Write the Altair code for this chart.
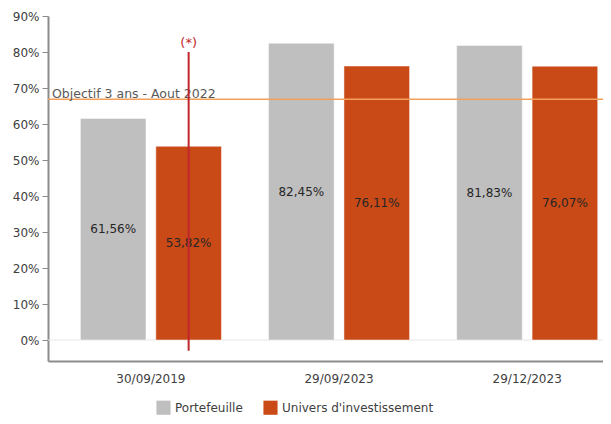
import altair as alt
import pandas as pd

dates = ["30/09/2019", "29/09/2023", "29/12/2023"]
series = ["Portefeuille", "Univers d'investissement"]
portefeuille = [0.6156, 0.8245, 0.8183]
univers = [0.5382, 0.7611, 0.7607]
portefeuille_labels = ["61,56%", "82,45%", "81,83%"]
univers_labels = ["53,82%", "76,11%", "76,07%"]
y_ticks = [0, 0.1, 0.2, 0.3, 0.4, 0.5, 0.6, 0.7, 0.8, 0.9]
objectif_value = 0.669
objectif_label = "Objectif 3 ans - Aout 2022"
marker_date = "30/09/2019"
marker_series = "Univers d'investissement"
marker_top = 0.80
marker_bottom = -0.03
marker_label = "(*)"

rows = []
for d, v, l in zip(dates, portefeuille, portefeuille_labels):
    rows.append({"date": d, "serie": series[0], "value": v, "label": l, "mid": v / 2})
for d, v, l in zip(dates, univers, univers_labels):
    rows.append({"date": d, "serie": series[1], "value": v, "label": l, "mid": v / 2})
df = pd.DataFrame(rows)

FONT = "DejaVu Sans"
TXT = "#404040"

yscale = alt.Scale(domain=[-0.0583, 0.9], nice=False, zero=False)
xscale = alt.Scale(domain=dates, paddingInner=0.25, paddingOuter=0.1, align=0.86)
offscale = alt.Scale(domain=series, paddingInner=0.13, paddingOuter=0)

y_axis = alt.Axis(title=None, values=y_ticks, format=".0%", grid=False,
                  labelOverlap=False,
                  domainColor="#8c8c8c", domainWidth=2, tickColor="#8c8c8c",
                  tickSize=6, labelFontSize=12, labelColor=TXT, labelFont=FONT,
                  labelPadding=3)
x_axis = alt.Axis(title=None, labelAngle=0, ticks=False, domainColor="#8c8c8c",
                  domainWidth=2, labelFontSize=12, labelColor=TXT, labelFont=FONT,
                  labelPadding=12)

bars = alt.Chart(df).mark_bar(stroke="white", strokeWidth=0.5).encode(
    x=alt.X("date:N", scale=xscale, sort=dates, axis=x_axis),
    xOffset=alt.XOffset("serie:N", scale=offscale, sort=series),
    y=alt.Y("value:Q", scale=yscale, axis=y_axis),
    y2=alt.datum(0),
    color=alt.Color("serie:N", sort=series,
                    scale=alt.Scale(domain=series, range=["#BFBFBF", "#C94A16"]),
                    legend=alt.Legend(title=None, orient="none", direction="horizontal",
                                      legendX=108, legendY=384,
                                      symbolType="square", symbolSize=200, symbolStrokeWidth=0,
                                      labelFontSize=12, labelColor=TXT, labelFont=FONT,
                                      columnPadding=20)),
)

zero_df = pd.DataFrame({"y": [0.0]})
zero_line = alt.Chart(zero_df).mark_rule(color="#e6e6e6", strokeWidth=1).encode(
    y=alt.Y("y:Q", scale=yscale, axis=y_axis)
)

labels = alt.Chart(df).mark_text(fontSize=12, color="#262626", font=FONT).encode(
    x=alt.X("date:N", scale=xscale, sort=dates, axis=x_axis),
    xOffset=alt.XOffset("serie:N", scale=offscale, sort=series),
    y=alt.Y("mid:Q", scale=yscale, axis=y_axis),
    text="label:N",
)

obj_df = pd.DataFrame({"y": [objectif_value], "t": [objectif_label]})
obj_line = alt.Chart(obj_df).mark_rule(color="#F5A05A", strokeWidth=1.5).encode(
    y=alt.Y("y:Q", scale=yscale, axis=y_axis)
)
obj_text = alt.Chart(obj_df).mark_text(align="left", baseline="bottom", dy=2, fontSize=12.5,
                                       color="#595959", font=FONT).encode(
    x=alt.value(4), y=alt.Y("y:Q", scale=yscale, axis=y_axis), text="t:N"
)

mk_df = pd.DataFrame({"date": [marker_date], "serie": [marker_series],
                      "top": [marker_top], "bottom": [marker_bottom], "t": [marker_label]})
mk_line = alt.Chart(mk_df).mark_rule(color="#C0272D", strokeWidth=2).encode(
    x=alt.X("date:N", scale=xscale, sort=dates, axis=x_axis),
    xOffset=alt.XOffset("serie:N", scale=offscale, sort=series),
    y=alt.Y("top:Q", scale=yscale, axis=y_axis), y2="bottom:Q",
)
mk_text = alt.Chart(mk_df).mark_text(color="#C0272D", fontSize=13, font=FONT,
                                     baseline="bottom", dy=-2).encode(
    x=alt.X("date:N", scale=xscale, sort=dates, axis=x_axis),
    xOffset=alt.XOffset("serie:N", scale=offscale, sort=series),
    y=alt.Y("top:Q", scale=yscale, axis=y_axis), text="t:N",
)

chart = alt.layer(zero_line, bars, labels, obj_line, obj_text, mk_line, mk_text).properties(
    width=555, height=345,
    autosize=alt.AutoSizeParams(type="none"),
    padding={"left": 40, "top": 8, "right": 0, "bottom": 55},
).configure_view(stroke=None)

chart.save("out.html", embed_options={"renderer": "svg", "actions": False})
